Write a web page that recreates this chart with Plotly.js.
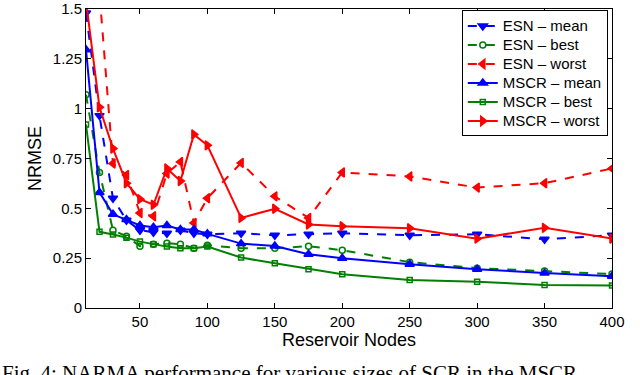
<!DOCTYPE html>
<html>
<head>
<meta charset="utf-8">
<script src="https://cdn.plot.ly/plotly-3.0.1.min.js"></script>
<style>
  html, body { margin: 0; padding: 0; background: #fff; }
  #plot { width: 640px; height: 375px; }
</style>
</head>
<body>
<div id="plot"></div>
<script>
// reservoir sizes on the x axis
var nodes = [10, 20, 30, 40, 50, 60, 70, 80, 90, 100, 125, 150, 175, 200, 250, 300, 350, 400];

// NRMSE
var esnMean   = [1.48, 0.965, 0.55, 0.44, 0.39, 0.38, 0.375, 0.39, 0.375, 0.37, 0.375, 0.365, 0.37, 0.375, 0.365, 0.37, 0.345, 0.365];
var esnBest   = [1.07, 0.68, 0.39, 0.36, 0.31, 0.32, 0.325, 0.32, 0.30, 0.315, 0.30, 0.30, 0.31, 0.29, 0.23, 0.20, 0.185, 0.17];
var esnWorst  = [2.1, 1.58, 0.725, 0.667, 0.477, 0.46, 0.675, 0.733, 0.427, 0.551, 0.728, 0.56, 0.452, 0.68, 0.66, 0.604, 0.626, 0.70];
var mscrMean  = [1.296, 0.58, 0.47, 0.444, 0.414, 0.405, 0.414, 0.394, 0.394, 0.372, 0.323, 0.311, 0.27, 0.25, 0.22, 0.195, 0.175, 0.159];
var mscrBest  = [0.92, 0.382, 0.369, 0.353, 0.333, 0.32, 0.308, 0.30, 0.30, 0.308, 0.253, 0.224, 0.195, 0.169, 0.141, 0.132, 0.116, 0.113];
var mscrWorst = [1.54, 1.007, 0.80, 0.626, 0.546, 0.518, 0.70, 0.637, 0.871, 0.816, 0.452, 0.498, 0.419, 0.41, 0.40, 0.348, 0.402, 0.348];

var seriesNames = ["ESN \u2013 mean", "ESN \u2013 best", "ESN \u2013 worst",
                   "MSCR \u2013 mean", "MSCR \u2013 best", "MSCR \u2013 worst"];

var xTicks = [50, 100, 150, 200, 250, 300, 350, 400];
var yTicks = [0, 0.25, 0.5, 0.75, 1, 1.25, 1.5];
var yTickText = ["0", "0.25", "0.5", "0.75", "1", "1.25", "1.5"];

var caption = "Fig. 4: NARMA performance for various sizes of SCR in the MSCR";

var BLUE = "#0000ff", GREEN = "#008000", RED = "#ff0000";

// legend rows are sized from legend.font, so the bigger label size goes in a span
function trace(ys, name, color, dash, symbol, size) {
  return {
    x: nodes, y: ys, mode: "lines+markers",
    name: '<span style="font-size:15px">' + name + '</span>',
    line: {color: color, width: 2, dash: dash},
    marker: {symbol: symbol, size: size, color: color, line: {color: color, width: 1.5}}
  };
}

var data = [
  trace(esnMean,   seriesNames[0], BLUE,  "dash",  "triangle-down",  8),
  trace(esnBest,   seriesNames[1], GREEN, "dash",  "circle-open",    6),
  trace(esnWorst,  seriesNames[2], RED,   "dash",  "triangle-left",  8),
  trace(mscrMean,  seriesNames[3], BLUE,  "solid", "triangle-up",    8),
  trace(mscrBest,  seriesNames[4], GREEN, "solid", "square-open",    5),
  trace(mscrWorst, seriesNames[5], RED,   "solid", "triangle-right", 8)
];

var axisStyle = {
  showline: true, linecolor: "#000", linewidth: 1, mirror: "ticks",
  ticks: "inside", ticklen: 5, tickcolor: "#000", showgrid: false, zeroline: false,
  ticklabeloverflow: "allow"
};

var layout = {
  width: 640, height: 375,
  margin: {l: 86, r: 28, t: 9, b: 67},
  paper_bgcolor: "#fff", plot_bgcolor: "#fff",
  font: {family: "Liberation Sans, Arial, sans-serif", size: 15, color: "#000"},
  showlegend: true,
  legend: {
    x: 0.992, y: 0.995, xanchor: "right", yanchor: "top",
    bordercolor: "#000", borderwidth: 1, bgcolor: "#fff",
    font: {size: 12}, tracegroupgap: 0
  },
  xaxis: Object.assign({}, axisStyle, {
    range: [10, 400], tickvals: xTicks,
    title: {text: "Reservoir Nodes", standoff: 1}
  }),
  yaxis: Object.assign({}, axisStyle, {
    range: [0, 1.5], tickvals: yTicks, ticktext: yTickText,
    title: {text: "NRMSE", standoff: 6}
  }),
  annotations: [{
    xref: "paper", yref: "paper", x: -0.163, y: -0.172,
    xanchor: "left", yanchor: "top", showarrow: false,
    text: caption,
    font: {family: "Liberation Serif, serif", size: 21, color: "#000"}
  }]
};

Plotly.newPlot("plot", data, layout, {displayModeBar: false, staticPlot: true});
</script>
</body>
</html>
